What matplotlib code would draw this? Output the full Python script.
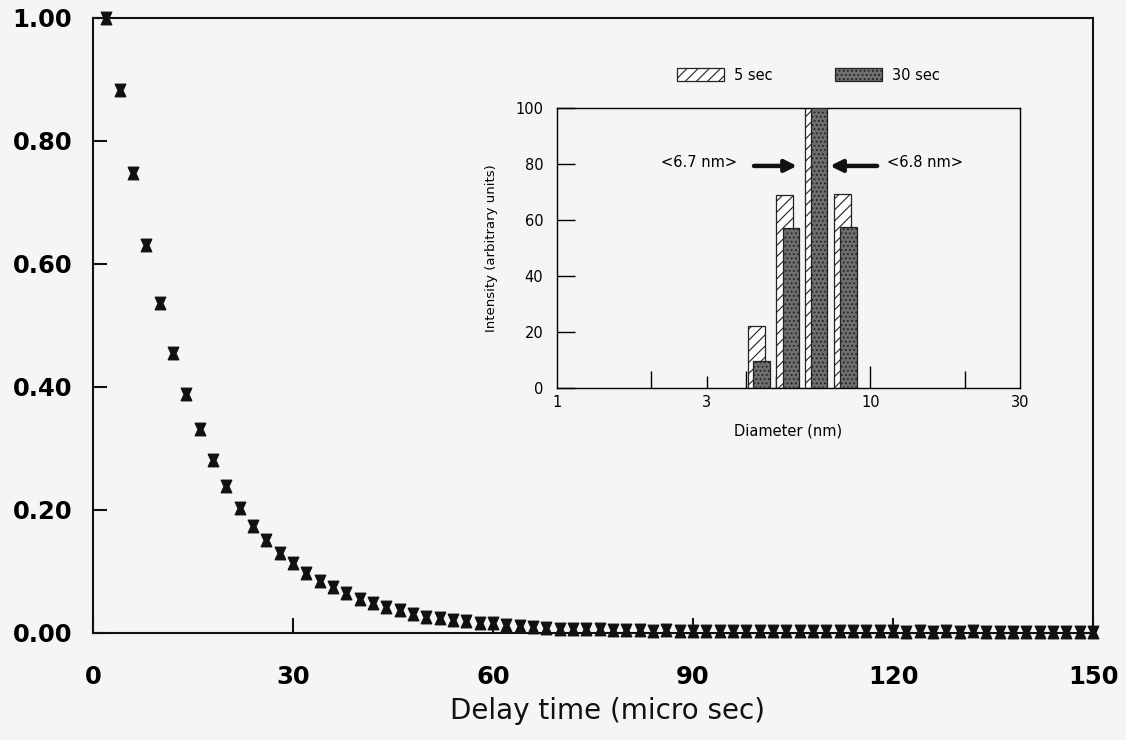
import numpy as np
import matplotlib
matplotlib.use("Agg")
import matplotlib.pyplot as plt
from matplotlib.path import Path

# --- main decay curve ---
delay_us = list(range(2, 152, 2))
signal = [1.000, 0.883, 0.748, 0.631, 0.537, 0.455, 0.388, 0.332, 0.281, 0.239,
          0.203, 0.174, 0.151, 0.130, 0.114, 0.098, 0.085, 0.075, 0.065, 0.055,
          0.049, 0.042, 0.037, 0.031, 0.026, 0.024,
          0.021, 0.020, 0.017, 0.016, 0.013, 0.011, 0.010, 0.008, 0.007, 0.007,
          0.006, 0.006, 0.005, 0.005, 0.005, 0.004, 0.005, 0.004, 0.004, 0.004,
          0.003, 0.003, 0.003, 0.003, 0.003, 0.004, 0.003, 0.004, 0.003, 0.003,
          0.003, 0.003, 0.003, 0.003, 0.002, 0.003, 0.002, 0.003, 0.002, 0.003,
          0.002, 0.002, 0.001, 0.002, 0.002, 0.002, 0.001, 0.002, 0.002]

# --- inset size distribution ---
diam_5s = [4.32, 5.32, 6.58, 8.15]
int_5s = [22.3, 68.9, 100.0, 69.4]
diam_30s = [4.50, 5.57, 6.86, 8.52]
int_30s = [9.6, 57.1, 100.0, 57.6]

bg = '#f4f5f6'
plt.rcParams['hatch.linewidth'] = 0.8

fig = plt.figure(figsize=(11.26, 7.4), dpi=100, facecolor=bg)

# ---------------- main axes ----------------
ax = fig.add_axes([0.0826, 0.1446, 0.8881, 0.8311], facecolor=bg)

# hourglass marker like the original error-bar symbols
verts = [(-1, 1.2), (1, 1.2), (0.45, 0), (1, -1.2), (-1, -1.2), (-0.45, 0), (-1, 1.2)]
codes = [Path.MOVETO] + [Path.LINETO] * 5 + [Path.CLOSEPOLY]
hourglass = Path(verts, codes)

ax.plot(delay_us, signal, linestyle='none', marker=hourglass, markersize=9,
        color='#111111', clip_on=False, zorder=4)

ax.set_xlim(0, 150)
ax.set_ylim(0, 1.0)
ax.set_xticks([0, 30, 60, 90, 120, 150])
ax.set_yticks([0, 0.2, 0.4, 0.6, 0.8, 1.0])
ax.set_yticklabels(['0.00', '0.20', '0.40', '0.60', '0.80', '1.00'])
ax.tick_params(axis='both', direction='in', width=1.5, color='#111111')
ax.tick_params(axis='x', length=11, pad=23, labelsize=17.5)
ax.tick_params(axis='y', length=10, pad=15, labelsize=17.5)
for lab in ax.get_xticklabels() + ax.get_yticklabels():
    lab.set_fontweight('bold')
for s in ax.spines.values():
    s.set_linewidth(1.5)
    s.set_color('#111111')

fig.text(607 / 1126, 1 - 711 / 740, 'Delay time (micro sec)', fontsize=20,
         ha='center', va='center', color='#111111')

# ---------------- inset ----------------
ax_in = fig.add_axes([0.4947, 0.4757, 0.4112, 0.3784], facecolor=bg)
ax_in.set_xscale('log')

half = 0.0265  # half bar width in decades


def bar_edges(d):
    d = np.asarray(d)
    left = d * 10 ** (-half)
    return left, d * 10 ** half - left


l5, w5 = bar_edges(diam_5s)
l30, w30 = bar_edges(diam_30s)
ax_in.bar(l5, int_5s, width=w5, align='edge', facecolor='white',
          edgecolor='#222222', hatch='///', linewidth=0.9, label='5 sec', zorder=2)
ax_in.bar(l30, int_30s, width=w30, align='edge', facecolor='#6e6e6e',
          edgecolor='#222222', hatch='....', linewidth=0.9, label='30 sec', zorder=3)

ax_in.set_xlim(1, 30)
ax_in.set_ylim(0, 100)
ax_in.xaxis.set_minor_locator(matplotlib.ticker.NullLocator())
ax_in.set_xticks([1, 2, 3, 4, 5, 10, 20, 30])
ax_in.set_xticklabels(['1', '', '3', '', '', '10', '', '30'])
ax_in.set_yticks([0, 20, 40, 60, 80, 100])
ax_in.tick_params(axis='both', direction='in', width=1.0, labelsize=10.5)
ax_in.tick_params(axis='x', pad=5)
ax_in.tick_params(axis='y', length=13, pad=10)
tick_len = {1: 0, 2: 12, 3: 9, 4: 12, 5: 9, 10: 16, 20: 12, 30: 0}
for t, v in zip(ax_in.xaxis.get_major_ticks(), [1, 2, 3, 4, 5, 10, 20, 30]):
    t.tick1line.set_markersize(tick_len[v])
for s in ax_in.spines.values():
    s.set_linewidth(1.0)

ax_in.set_xlabel('Diameter (nm)', fontsize=10.5, labelpad=10)
ax_in.set_ylabel('Intensity (arbitrary units)', fontsize=9.5, labelpad=12)

# mean size markers
arrow = dict(arrowstyle='-|>,head_length=0.7,head_width=0.35', lw=3.2,
             color='#111111', shrinkA=0, shrinkB=0)
ax_in.annotate('', xy=(5.83, 79.3), xytext=(4.25, 79.3), arrowprops=arrow)
ax_in.annotate('', xy=(7.43, 79.3), xytext=(10.5, 79.3), arrowprops=arrow)
ax_in.text(3.75, 80.5, '<6.7 nm>', fontsize=10.5, ha='right', va='center')
ax_in.text(11.3, 80.5, '<6.8 nm>', fontsize=10.5, ha='left', va='center')

ax_in.legend(loc='center left', bbox_to_anchor=(677 / 1126, 1 - 75 / 740),
             bbox_transform=fig.transFigure, ncol=2, frameon=False,
             handlelength=3.2, handleheight=1.0, columnspacing=4.3,
             handletextpad=0.7, borderpad=0, borderaxespad=0, fontsize=10.5)

fig.savefig('out.png', dpi=100, facecolor=bg)
